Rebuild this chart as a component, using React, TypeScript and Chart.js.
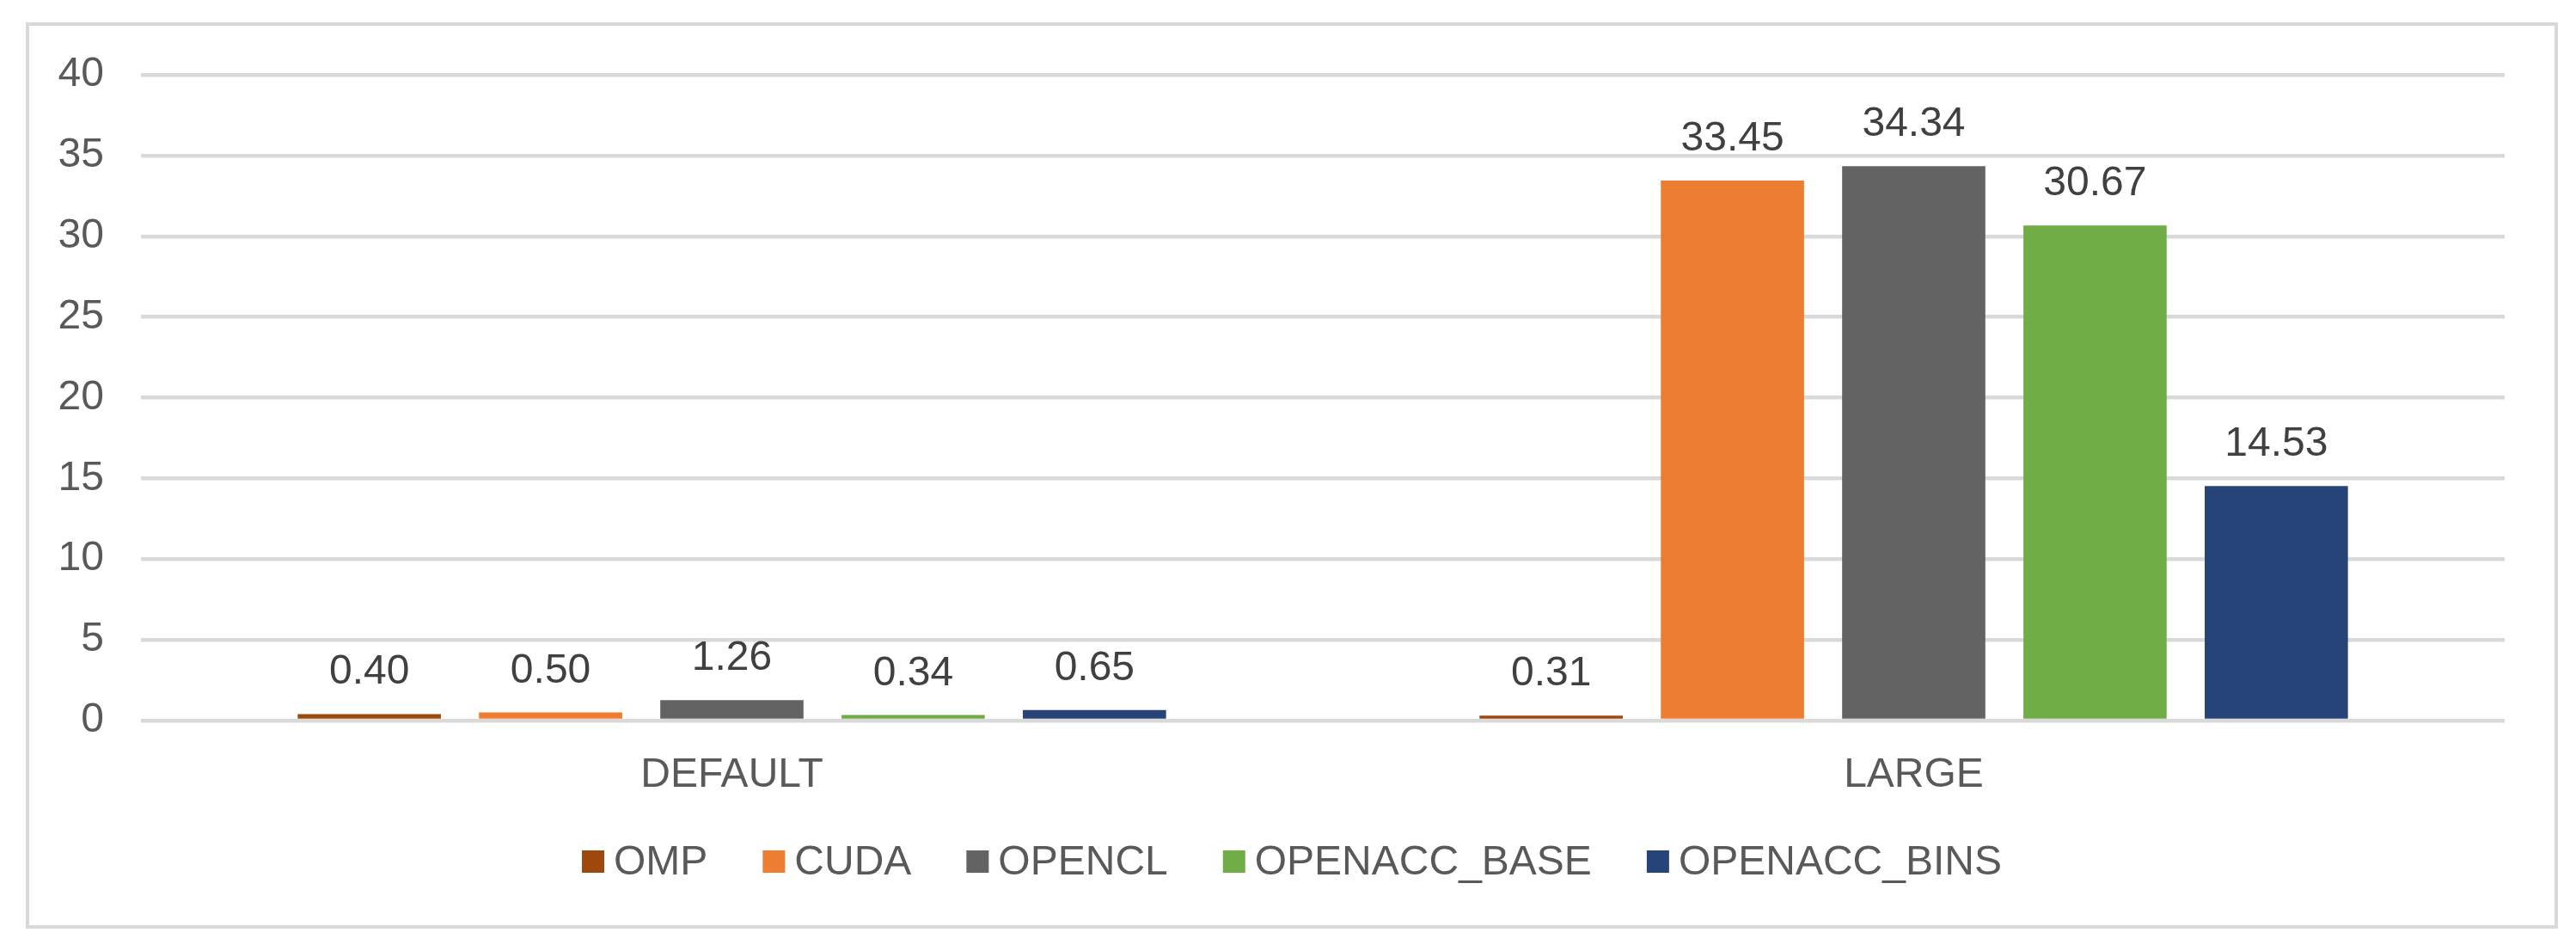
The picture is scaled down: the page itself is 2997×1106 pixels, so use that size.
import React, { useEffect, useRef } from "react";
import { Chart, registerables } from "chart.js";

Chart.register(...registerables);

const categories = ["DEFAULT", "LARGE"];
const seriesNames = ["OMP", "CUDA", "OPENCL", "OPENACC_BASE", "OPENACC_BINS"];
const seriesColors = ["#9E480E", "#ED7D31", "#636363", "#70AD47", "#264478"];
const ompValues = [0.4, 0.31];
const cudaValues = [0.5, 33.45];
const openclValues = [1.26, 34.34];
const openaccBaseValues = [0.34, 30.67];
const openaccBinsValues = [0.65, 14.53];
const seriesValues = [ompValues, cudaValues, openclValues, openaccBaseValues, openaccBinsValues];
const yTicks = [0, 5, 10, 15, 20, 25, 30, 35, 40];

const W = 2997;
const H = 1106;
const FONT = "'Liberation Sans', Arial, sans-serif";

const framePlugin = {
  id: "frame",
  beforeDraw(chart: any) {
    const ctx = chart.ctx;
    ctx.save();
    ctx.fillStyle = "#ffffff";
    ctx.fillRect(0, 0, chart.width, chart.height);
    ctx.strokeStyle = "#d9d9d9";
    ctx.lineWidth = 4;
    ctx.strokeRect(32, 28, 2942, 1050);
    ctx.restore();
  },
};

const dataLabelPlugin = {
  id: "dataLabels",
  afterDatasetsDraw(chart: any) {
    const ctx = chart.ctx;
    ctx.save();
    ctx.font = `48px ${FONT}`;
    ctx.fillStyle = "#404040";
    ctx.textAlign = "center";
    ctx.textBaseline = "alphabetic";
    chart.data.datasets.forEach((ds: any, i: number) => {
      const meta = chart.getDatasetMeta(i);
      meta.data.forEach((bar: any, j: number) => {
        const v = ds.data[j];
        ctx.fillText(Number(v).toFixed(2), bar.x, bar.y - 35);
      });
    });
    ctx.restore();
  },
};

const legendPlugin = {
  id: "customLegend",
  afterDraw(chart: any) {
    const ctx = chart.ctx;
    ctx.save();
    ctx.font = `48px ${FONT}`;
    const box = 26;
    const boxGap = 11;
    const itemGap = 64;
    const items = chart.data.datasets.map((ds: any) => ({
      label: ds.label,
      color: ds.backgroundColor,
      w: ctx.measureText(ds.label).width,
    }));
    const total =
      items.reduce((s: number, it: any) => s + box + boxGap + it.w, 0) +
      itemGap * (items.length - 1);
    let x = 1503 - total / 2;
    const cy = 1002;
    ctx.textBaseline = "alphabetic";
    ctx.textAlign = "left";
    items.forEach((it: any) => {
      ctx.fillStyle = it.color;
      ctx.fillRect(x, cy - box / 2, box, box);
      x += box + boxGap;
      ctx.fillStyle = "#595959";
      ctx.fillText(it.label, x, 1017);
      x += it.w + itemGap;
    });
    ctx.restore();
  },
};

export default function App() {
  const canvasRef = useRef<HTMLCanvasElement | null>(null);

  useEffect(() => {
    const canvas = canvasRef.current;
    if (!canvas) return;
    const chart = new Chart(canvas, {
      type: "bar",
      data: {
        labels: categories,
        datasets: seriesNames.map((name, i) => ({
          label: name,
          data: seriesValues[i],
          backgroundColor: seriesColors[i],
          borderWidth: 0,
          categoryPercentage: 0.767,
          barPercentage: 0.79,
        })),
      },
      options: {
        responsive: false,
        animation: false,
        devicePixelRatio: 1,
        layout: { padding: { left: 0, top: 87, right: 83, bottom: 168 } },
        plugins: {
          legend: { display: false },
          tooltip: { enabled: false },
          title: { display: false },
        },
        scales: {
          x: {
            grid: { display: false },
            border: { display: false },
            ticks: {
              color: "#595959",
              font: { family: FONT, size: 48 },
              padding: 27,
              maxRotation: 0,
            },
            afterFit: (scale: any) => {
              scale.height = 100;
            },
          },
          y: {
            min: 0,
            max: 40,
            afterBuildTicks: (scale: any) => {
              scale.ticks = yTicks.map((v) => ({ value: v }));
            },
            grid: {
              color: "#d9d9d9",
              lineWidth: 4.5,
              drawTicks: false,
            },
            border: { display: false },
            ticks: {
              color: "#595959",
              font: { family: FONT, size: 48 },
              padding: 43,
              stepSize: 5,
            },
            afterFit: (scale: any) => {
              scale.width = 164;
            },
          },
        },
      },
      plugins: [framePlugin, dataLabelPlugin, legendPlugin],
    });
    return () => chart.destroy();
  }, []);

  return (
    <div style={{ position: "fixed", left: 0, top: 0, width: W, height: H, background: "#fff" }}>
      <canvas ref={canvasRef} width={W} height={H} style={{ display: "block", width: W, height: H }} />
    </div>
  );
}
